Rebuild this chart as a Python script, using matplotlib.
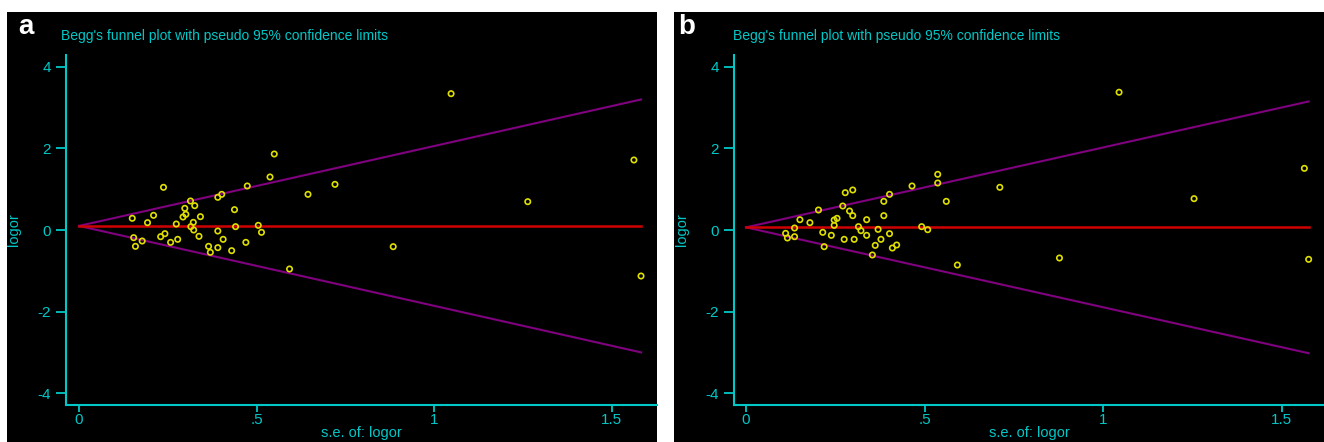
import matplotlib
matplotlib.use("Agg")
import matplotlib.pyplot as plt
from matplotlib.patches import Rectangle
import numpy as np

# ---- data ----
se_a = [0.150, 0.154, 0.159, 0.178, 0.193, 0.210, 0.238, 0.230, 0.242, 0.258,
        0.274, 0.278, 0.293, 0.298, 0.301, 0.314, 0.326, 0.315, 0.322, 0.323,
        0.342, 0.338, 0.365, 0.370, 0.391, 0.402, 0.391, 0.391, 0.406, 0.430,
        0.438, 0.441, 0.470, 0.474, 0.505, 0.514, 0.538, 0.550, 0.593, 0.645,
        0.721, 0.885, 1.048, 1.264, 1.563, 1.583]
logor_a = [0.287, -0.188, -0.401, -0.270, 0.180, 0.360, 1.047, -0.164, -0.090, -0.303,
           0.147, -0.229, 0.319, 0.532, 0.384, 0.712, 0.597, 0.082, 0.188, 0.000,
           0.327, -0.155, -0.401, -0.548, 0.802, 0.875, -0.025, -0.433, -0.229, -0.507,
           0.499, 0.082, -0.303, 1.080, 0.114, -0.057, 1.301, 1.865, -0.957, 0.875,
           1.120, -0.409, 3.345, 0.695, 1.718, -1.129]
pooled_a = 0.10

se_b = [0.111, 0.116, 0.136, 0.136, 0.151, 0.179, 0.203, 0.215, 0.219, 0.239,
        0.247, 0.247, 0.255, 0.271, 0.278, 0.299, 0.290, 0.299, 0.275, 0.303,
        0.315, 0.322, 0.338, 0.338, 0.362, 0.354, 0.370, 0.378, 0.386, 0.386,
        0.402, 0.402, 0.410, 0.422, 0.465, 0.492, 0.509, 0.537, 0.537, 0.561,
        0.592, 0.711, 0.878, 1.045, 1.255, 1.564, 1.576]
logor_b = [-0.082, -0.196, 0.049, -0.164, 0.253, 0.180, 0.491, -0.057, -0.409, -0.131,
           0.245, 0.114, 0.286, 0.589, 0.916, 0.982, 0.466, 0.352, -0.229, -0.229,
           0.082, -0.016, -0.131, 0.253, -0.377, -0.613, 0.016, -0.229, 0.703, 0.352,
           0.875, -0.090, -0.442, -0.368, 1.080, 0.082, 0.008, 1.366, 1.153, 0.703,
           -0.859, 1.047, -0.687, 3.380, 0.769, 1.513, -0.720]
pooled_b = 0.065

panel_letters = ["a", "b"]
title_text = "Begg's funnel plot with pseudo 95% confidence limits"
xlabel_text = "s.e. of: logor"
ylabel_text = "logor"
xticks = [0, 0.5, 1, 1.5]
xtick_labels = ["0", ".5", "1", "1.5"]
yticks = [-4, -2, 0, 2, 4]
ytick_labels = ["-4", "-2", "0", "2", "4"]

# ---- style ----
W, H = 1324, 442
CYAN = "#00C8C8"
YELLOW = "#E0E000"
PURPLE = "#800080"
RED = "#D00000"
plt.rcParams["font.family"] = ["Liberation Sans", "DejaVu Sans"]

fig = plt.figure(figsize=(W / 100, H / 100), dpi=100, facecolor="white")

def fx(px):
    return px / W

def fy(py):
    return 1 - py / H

# black panel backgrounds
for x0, x1 in [(6.7, 656.7), (674.3, 1324)]:
    fig.patches.append(Rectangle((fx(x0), 0), fx(x1) - fx(x0), fy(11.7),
                                 transform=fig.transFigure, facecolor="black",
                                 edgecolor="none", zorder=-5))

panels = [
    dict(se=se_a, lo=logor_a, th=pooled_a, ax_px=(66, 657), xlim=(-0.0366, 1.628),
         letter_x=18, title_x=60.7),
    dict(se=se_b, lo=logor_b, th=pooled_b, ax_px=(734, 1324), xlim=(-0.0336, 1.619),
         letter_x=678, title_x=732.7),
]

ax_top, ax_bot = 55, 405
for i, p in enumerate(panels):
    l, r = p["ax_px"]
    ax = fig.add_axes([fx(l), fy(ax_bot), fx(r) - fx(l), (ax_bot - ax_top) / H])
    ax.set_facecolor("black")
    se = np.array(p["se"])
    lo = np.array(p["lo"])
    smax = se.max()
    xs = np.array([0.0, smax])
    ax.plot(xs, p["th"] + 1.96 * xs, color=PURPLE, lw=1.5, zorder=2)
    ax.plot(xs, p["th"] - 1.96 * xs, color=PURPLE, lw=1.5, zorder=2)
    ax.plot(xs, [p["th"], p["th"]], color=RED, lw=1.8, zorder=3)
    ax.scatter(se, lo, s=15, facecolors="none", edgecolors=YELLOW, linewidths=1.2, zorder=4)

    ax.set_xlim(*p["xlim"])
    ax.set_ylim(-4.294, 4.294)
    ax.set_xticks(xticks)
    ax.set_xticklabels(xtick_labels)
    ax.set_yticks(yticks)
    ax.set_yticklabels(ytick_labels)
    for side in ["top", "right"]:
        ax.spines[side].set_visible(False)
    for side in ["left", "bottom"]:
        ax.spines[side].set_color(CYAN)
        ax.spines[side].set_linewidth(1.5)
    ax.tick_params(axis="both", colors=CYAN, labelcolor=CYAN, labelsize=11,
                   width=1.3, direction="out")
    ax.tick_params(axis="y", length=7, pad=4)
    ax.tick_params(axis="x", length=5, pad=1)
    ax.set_xlabel(xlabel_text, color=CYAN, fontsize=10.5, va="center")
    ax.xaxis.set_label_coords(0.5, -0.08)
    ax.set_ylabel(ylabel_text, color=CYAN, fontsize=10.5, va="center")
    ax.yaxis.set_label_coords(-0.088, 0.5)

    fig.text(fx(p["title_x"]), fy(36), title_text, color=CYAN, fontsize=10,
             ha="left", va="center")
    fig.text(fx(p["letter_x"]), fy(34), panel_letters[i], color="white",
             fontsize=20, fontweight="bold", ha="left", va="baseline")

fig.savefig("out.png", dpi=100, facecolor="white")
